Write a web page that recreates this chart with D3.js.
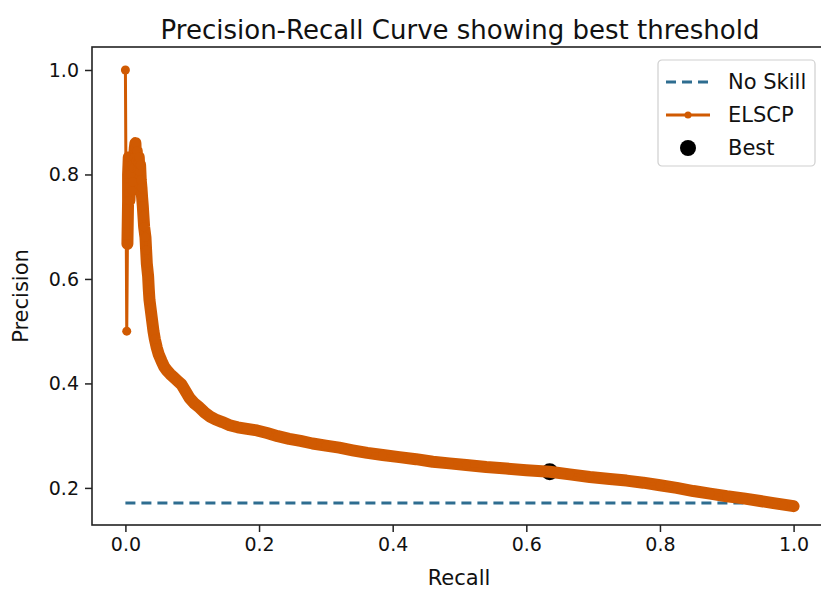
<html>
<head>
    <title>Precision-Recall Curve</title>
    <script src="https://d3js.org/d3.v7.min.js"></script>
    <style>
        body { margin: 0; background: #fff; }
        text { font-family: "DejaVu Sans", sans-serif; fill: #111; }
    </style>
</head>
<body>
    <div id="myPlot"></div>
    <script>
        // values
        var recall = [0.000, 0.002, 0.003, 0.004, 0.004, 0.005, 0.006, 0.007, 0.008, 0.009,
            0.010, 0.011, 0.012, 0.013, 0.014, 0.015, 0.016, 0.017, 0.018, 0.019,
            0.020, 0.021, 0.022, 0.023, 0.024, 0.025, 0.026, 0.027, 0.028, 0.030,
            0.031, 0.032, 0.034, 0.035, 0.036, 0.038, 0.040, 0.042, 0.044, 0.047,
            0.050, 0.054, 0.058, 0.062, 0.067, 0.072, 0.078, 0.084, 0.090, 0.096,
            0.103, 0.110, 0.118, 0.126, 0.135, 0.145, 0.156, 0.168, 0.182, 0.197,
            0.212, 0.228, 0.245, 0.262, 0.280, 0.300, 0.320, 0.340, 0.362, 0.385,
            0.410, 0.435, 0.460, 0.485, 0.510, 0.540, 0.570, 0.600, 0.635, 0.665,
            0.695, 0.725, 0.750, 0.775, 0.800, 0.825, 0.850, 0.875, 0.900, 0.925,
            0.950, 0.970, 0.985, 1.000];
        var precision = [1.000, 0.500, 0.667, 0.750, 0.800, 0.833, 0.750, 0.778, 0.800, 0.818,
            0.769, 0.786, 0.812, 0.833, 0.850, 0.860, 0.826, 0.845, 0.808, 0.821,
            0.833, 0.806, 0.818, 0.789, 0.775, 0.756, 0.740, 0.720, 0.700, 0.680,
            0.655, 0.630, 0.605, 0.580, 0.560, 0.540, 0.520, 0.500, 0.485, 0.468,
            0.455, 0.443, 0.432, 0.425, 0.418, 0.412, 0.405, 0.398, 0.385, 0.372,
            0.362, 0.355, 0.345, 0.337, 0.331, 0.326, 0.320, 0.316, 0.313, 0.310,
            0.305, 0.299, 0.294, 0.290, 0.285, 0.281, 0.277, 0.272, 0.267, 0.263,
            0.259, 0.255, 0.250, 0.247, 0.244, 0.240, 0.237, 0.234, 0.231, 0.226,
            0.221, 0.217, 0.214, 0.210, 0.205, 0.200, 0.194, 0.189, 0.184, 0.180,
            0.175, 0.171, 0.168, 0.165];
        var noSkillRecall = [0, 1];
        var noSkillPrecision = [0.171, 0.171];
        var bestPoint = [0.635, 0.231];
        var xTicks = [0.0, 0.2, 0.4, 0.6, 0.8, 1.0];
        var yTicks = [0.2, 0.4, 0.6, 0.8, 1.0];
        var legendLabels = ["No Skill", "ELSCP", "Best"];

        var orange = "#d05a02";
        var blue = "#2e6d90";

        var svg = d3.select("#myPlot").append("svg")
            .attr("width", 821)
            .attr("height", 596);

        var plotLeft = 92, plotRight = 827, plotTop = 47, plotBottom = 525;

        var xScale = d3.scaleLinear()
            .domain([-0.05, 1.05])
            .range([plotLeft, plotRight]);

        var yScale = d3.scaleLinear()
            .domain([0.129, 1.044])
            .range([plotBottom, plotTop]);

        // title
        svg.append("text")
            .attr("x", 460)
            .attr("y", 39)
            .attr("text-anchor", "middle")
            .style("font-size", "26px")
            .text("Precision-Recall Curve showing best threshold");

        // axes
        var xAxis = svg.append("g")
            .attr("transform", "translate(0," + plotBottom + ")")
            .call(d3.axisBottom(xScale).tickValues(xTicks).tickFormat(d3.format(".1f")).tickSizeOuter(0).tickSize(7).tickPadding(6));
        var yAxis = svg.append("g")
            .attr("transform", "translate(" + plotLeft + ",0)")
            .call(d3.axisLeft(yScale).tickValues(yTicks).tickFormat(d3.format(".1f")).tickSizeOuter(0).tickSize(7).tickPadding(6));
        [xAxis, yAxis].forEach(function (a) {
            a.select(".domain").remove();
            a.selectAll("line").attr("stroke", "#222").attr("stroke-width", 1.5);
            a.selectAll("text").style("font-size", "19px").style("fill", "#111").attr("font-family", null);
        });

        // frame
        svg.append("rect")
            .attr("x", plotLeft)
            .attr("y", plotTop)
            .attr("width", plotRight - plotLeft)
            .attr("height", plotBottom - plotTop)
            .attr("fill", "none")
            .attr("stroke", "#222")
            .attr("stroke-width", 1.6);

        // axis labels
        svg.append("text")
            .attr("x", 459)
            .attr("y", 585)
            .attr("text-anchor", "middle")
            .style("font-size", "21px")
            .text("Recall");
        svg.append("text")
            .attr("transform", "translate(28,296) rotate(-90)")
            .attr("text-anchor", "middle")
            .style("font-size", "21px")
            .text("Precision");

        // best point sits under the curve
        svg.append("circle")
            .attr("cx", xScale(bestPoint[0]))
            .attr("cy", yScale(bestPoint[1]))
            .attr("r", 8.5)
            .attr("fill", "black");

        // no skill line
        var noSkill = noSkillRecall.map(function (r, i) { return [r, noSkillPrecision[i]]; });
        var line = d3.line()
            .x(function (d) { return xScale(d[0]); })
            .y(function (d) { return yScale(d[1]); });
        svg.append("path")
            .attr("d", line(noSkill))
            .attr("fill", "none")
            .attr("stroke", blue)
            .attr("stroke-width", 3)
            .attr("stroke-dasharray", "10,6");

        // ELSCP curve: dense markers form a thick band
        var curve = recall.map(function (r, i) { return [r, precision[i]]; });
        svg.append("path")
            .attr("d", line(curve.slice(2)))
            .attr("fill", "none")
            .attr("stroke", orange)
            .attr("stroke-width", 12)
            .attr("stroke-linejoin", "round")
            .attr("stroke-linecap", "round");
        svg.append("path")
            .attr("d", line(curve))
            .attr("fill", "none")
            .attr("stroke", orange)
            .attr("stroke-width", 3);
        svg.selectAll(".pt")
            .data(curve)
            .enter()
            .append("circle")
            .attr("class", "pt")
            .attr("cx", function (d) { return xScale(d[0]); })
            .attr("cy", function (d) { return yScale(d[1]); })
            .attr("r", 4.5)
            .attr("fill", orange);

        // legend
        var lg = svg.append("g").attr("transform", "translate(658,60)");
        lg.append("rect")
            .attr("width", 157)
            .attr("height", 106)
            .attr("rx", 4)
            .attr("fill", "white")
            .attr("stroke", "#cfcfcf")
            .attr("stroke-width", 1.2);
        var rows = [22, 55, 88];
        lg.append("line")
            .attr("x1", 8).attr("x2", 52).attr("y1", rows[0]).attr("y2", rows[0])
            .attr("stroke", blue).attr("stroke-width", 3).attr("stroke-dasharray", "10,6");
        lg.append("line")
            .attr("x1", 8).attr("x2", 52).attr("y1", rows[1]).attr("y2", rows[1])
            .attr("stroke", orange).attr("stroke-width", 3);
        lg.append("circle")
            .attr("cx", 30).attr("cy", rows[1]).attr("r", 3.5).attr("fill", orange);
        lg.append("circle")
            .attr("cx", 30).attr("cy", rows[2]).attr("r", 8).attr("fill", "black");
        lg.selectAll(".lbl")
            .data(legendLabels)
            .enter()
            .append("text")
            .attr("class", "lbl")
            .attr("x", 70)
            .attr("y", function (d, i) { return rows[i] + 7; })
            .style("font-size", "21px")
            .text(function (d) { return d; });
    </script>
</body>
</html>
